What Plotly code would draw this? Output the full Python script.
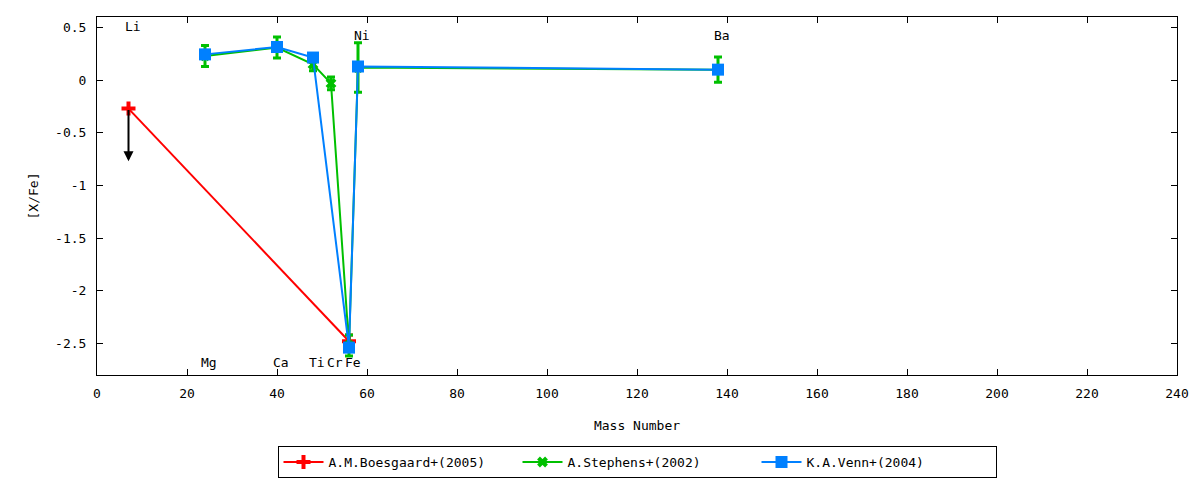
import plotly.graph_objects as go

# ---- data ----
boes_x = [7, 56]
boes_y = [-0.27, -2.48]
boes_err = [None, 0.06]
li_limit_y = -0.77  # upper-limit arrow tip for Li

steph_x = [24, 40, 48, 52, 56, 58, 138]
steph_y = [0.23, 0.31, 0.15, -0.03, -2.52, 0.12, 0.10]
steph_err = [0.10, 0.10, 0.06, 0.06, 0.10, 0.235, 0.12]

venn_x = [24, 40, 48, 56, 58, 138]
venn_y = [0.245, 0.315, 0.215, -2.54, 0.13, 0.10]

elem_names = ["Li", "Mg", "Ca", "Ti", "Cr", "Fe", "Ni", "Ba"]
elem_x = [7, 24, 40, 48, 52, 56, 58, 138]
elem_label_y = [0.51, -2.68, -2.68, -2.68, -2.68, -2.68, 0.42, 0.42]

x_ticks = list(range(0, 241, 20))
y_ticks = [0.5, 0, -0.5, -1, -1.5, -2, -2.5]
y_ticktext = ["0.5", "0", "-0.5", "-1", "-1.5", "-2", "-2.5"]

FONT = "DejaVu Sans Mono"

fig = go.Figure()

fig.add_trace(go.Scatter(
    x=boes_x, y=boes_y, mode="lines+markers", name="A.M.Boesgaard+(2005)",
    line=dict(color="#ff0000", width=2),
    marker=dict(symbol="cross-thin", size=10, color="#ff0000",
                line=dict(color="#ff0000", width=4)),
    error_y=dict(type="data", array=boes_err, visible=True, color="#ff0000",
                 thickness=3, width=4),
))
fig.add_trace(go.Scatter(
    x=steph_x, y=steph_y, mode="lines+markers", name="A.Stephens+(2002)",
    line=dict(color="#00c000", width=2),
    marker=dict(symbol="x-thin", size=8, color="#00c000",
                line=dict(color="#00c000", width=4)),
    error_y=dict(type="data", array=steph_err, visible=True, color="#00c000",
                 thickness=3, width=4),
))
fig.add_trace(go.Scatter(
    x=venn_x, y=venn_y, mode="lines+markers", name="K.A.Venn+(2004)",
    line=dict(color="#0080ff", width=2),
    marker=dict(symbol="square", size=12, color="#0080ff"),
))

# upper-limit arrow for Li
fig.add_annotation(x=boes_x[0], y=li_limit_y, ax=boes_x[0], ay=boes_y[0],
                   xref="x", yref="y", axref="x", ayref="y",
                   showarrow=True, arrowhead=2, arrowsize=1, arrowwidth=2,
                   arrowcolor="black", text="")

for name, ex, ey in zip(elem_names, elem_x, elem_label_y):
    fig.add_annotation(x=ex, y=ey, xref="x", yref="y", text=name,
                       showarrow=False, xshift=4,
                       font=dict(family=FONT, size=13, color="black"))

# page body has an 8px margin, so the figure is 8px smaller and offset
fig.update_layout(
    width=1192, height=472,
    margin=dict(l=89, r=23, t=9, b=105, autoexpand=False),
    paper_bgcolor="white", plot_bgcolor="white",
    font=dict(family=FONT, size=13, color="black"),
    showlegend=True,
    legend=dict(orientation="h", x=0.5, xanchor="center",
                yref="container", y=0.072, yanchor="top",
                bordercolor="black", borderwidth=1, entrywidth=184,
                font=dict(family=FONT, size=13), tracegroupgap=0,
                itemwidth=40),
)
fig.update_xaxes(range=[0, 240], tickvals=x_ticks, ticks="inside", ticklen=6,
                 mirror="allticks", showline=True, linecolor="black", linewidth=1,
                 showgrid=False, zeroline=False, tickcolor="black",
                 ticklabelstandoff=6, automargin=False,
                 title=dict(text="Mass Number", standoff=21,
                            font=dict(family=FONT, size=13)))
fig.update_yaxes(range=[-2.8, 0.6], tickvals=y_ticks, ticktext=y_ticktext,
                 ticks="inside", ticklen=6,
                 mirror="allticks", showline=True, linecolor="black", linewidth=1,
                 showgrid=False, zeroline=False, tickcolor="black",
                 ticklabelstandoff=7, automargin=False,
                 title=dict(text="[X/Fe]", standoff=13,
                            font=dict(family=FONT, size=13)))

fig.write_html("out.html")
